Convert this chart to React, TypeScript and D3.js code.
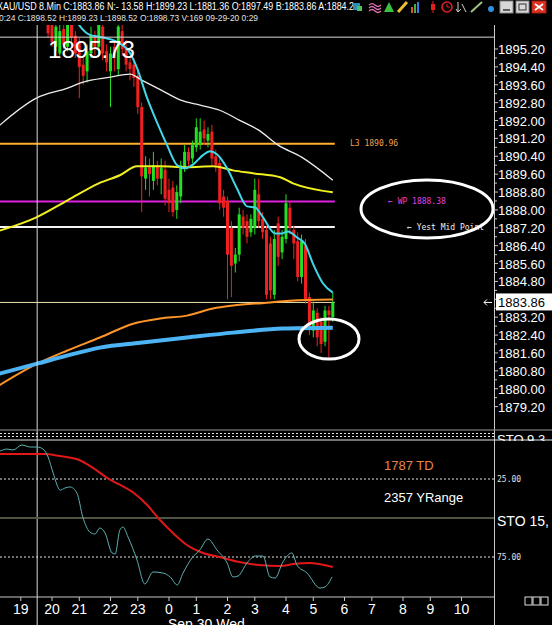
import React from "react";
import * as d3 from "d3";

// ---------- data ----------
const FIRST_BAR = -31; // bar index of first candle (0 = 0:00 bar)
const opens = [1896.6,1896.3,1895.3,1895.0,1896.1,1895.3,1896.4,1895.8,1895.5,1894.5,1894.2,1895.0,1895.8,1895.3,1896.2,1895.1,1894.2,1895.3,1894.3,1896.0,1895.3,1894.6,1894.5,1894.0,1892.6,1889.4,1889.9,1889.3,1890.0,1889.4,1889.8,1888.9,1889.0,1888.0,1888.6,1889.9,1890.6,1890.3,1890.8,1890.9,1891.6,1891.1,1891.5,1890.4,1890.1,1888.6,1888.4,1887.2,1885.6,1886.0,1887.7,1887.5,1887.0,1887.2,1888.7,1887.6,1887.1,1886.5,1884.2,1887.4,1886.1,1886.7,1888.1,1887.1,1886.6,1885.0,1886.4,1884.1,1882.6,1883.4,1883.0,1882.1,1883.5,1883.2];
const highs = [1897.0,1896.8,1896.6,1896.3,1896.5,1896.7,1896.8,1896.0,1895.7,1894.8,1895.4,1896.2,1896.0,1896.8,1896.5,1895.4,1895.3,1895.6,1896.6,1896.4,1895.6,1894.9,1894.8,1894.3,1892.8,1890.4,1890.3,1890.6,1890.2,1890.3,1890.2,1889.4,1889.3,1889.1,1890.2,1890.9,1890.8,1891.1,1892.1,1892.1,1892.0,1891.7,1891.8,1890.7,1890.3,1888.9,1888.6,1887.5,1886.3,1888.1,1888.0,1887.8,1887.8,1889.4,1889.4,1887.9,1887.3,1886.8,1887.1,1887.7,1887.1,1888.7,1888.4,1887.3,1887.0,1886.9,1886.7,1884.3,1883.9,1883.6,1883.2,1883.7,1883.7,1884.3];
const lows = [1895.7,1895.3,1895.1,1894.9,1895.2,1895.1,1895.5,1894.8,1893.0,1893.6,1893.7,1894.8,1894.9,1895.0,1894.7,1894.2,1892.6,1894.2,1894.0,1894.9,1894.2,1893.8,1893.5,1892.3,1887.9,1888.9,1888.6,1888.9,1889.1,1888.7,1888.2,1887.9,1887.7,1887.6,1888.3,1889.7,1889.9,1890.1,1890.6,1890.7,1890.9,1890.8,1890.0,1889.7,1888.0,1887.7,1884.0,1884.1,1885.2,1885.7,1886.9,1886.5,1886.8,1886.9,1887.2,1886.7,1884.0,1884.0,1884.0,1885.5,1885.8,1886.5,1886.9,1885.8,1884.8,1884.7,1883.8,1882.4,1882.3,1881.9,1881.6,1881.9,1881.36,1883.0];
const closes = [1895.9,1895.5,1896.2,1896.0,1895.4,1896.3,1895.7,1895.0,1894.4,1894.0,1895.1,1895.8,1895.3,1896.3,1895.0,1894.6,1895.0,1894.8,1896.2,1895.2,1894.5,1894.3,1893.9,1892.6,1889.5,1889.9,1889.6,1890.0,1889.4,1889.9,1888.5,1888.3,1887.9,1888.8,1890.0,1890.6,1890.2,1890.9,1891.7,1891.5,1891.2,1891.4,1890.3,1890.0,1888.3,1888.1,1886.0,1885.5,1886.0,1887.8,1887.2,1886.8,1887.6,1888.9,1887.5,1887.0,1884.2,1884.4,1886.7,1885.9,1886.8,1888.3,1887.2,1886.5,1885.0,1886.6,1884.0,1882.7,1883.5,1882.3,1882.0,1883.5,1883.3,1883.86];

const whiteMaBars = [-44,-34,-26,-22,-15,-10,-7,-2,3,8,13,18,23,28,34,42];
const whiteMaVals = [1891.70,1893.00,1893.45,1893.72,1893.94,1894.08,1893.81,1893.36,1892.91,1892.69,1892.46,1892.02,1891.57,1890.90,1890.36,1889.33];
const yellowMaBars = [-44,-34,-26,-18,-12.6,-8.2,-2.3,4.6,11.3,16.4,21.5,28.5,31.8,42];
const yellowMaVals = [1887.04,1887.67,1888.43,1889.19,1889.55,1889.95,1889.95,1889.91,1889.95,1889.77,1889.64,1889.46,1889.19,1888.79];
const cyanMaBars = [-25.5,-23.6,-20.3,-17.7,-13.3,-10,-8.2,-5.6,-3.1,-0.5,2.1,4.1,6.2,8.7,10.5,12.3,14.9,17.4,20,22.1,24.1,27.2,29,30.5,32.8,34.9,36.9,39.5,42];
const cyanMaVals = [1897.0,1896.41,1895.83,1895.74,1895.51,1895.02,1894.35,1893.00,1891.93,1890.90,1890.00,1889.86,1890.04,1890.45,1890.63,1890.49,1889.86,1888.97,1888.16,1888.11,1887.67,1886.95,1886.95,1887.04,1886.77,1886.46,1885.60,1884.71,1884.30];
const orangeMaBars = [-44,-33.8,-26.2,-17.7,-9.2,-2.3,4.6,11.3,16.4,25.1,31,42];
const orangeMaVals = [1880.10,1881.12,1881.70,1882.29,1882.91,1883.14,1883.27,1883.59,1883.72,1883.85,1883.94,1883.99];
const blueMaBars = [-44,-33.8,-26.2,-17.7,-7.4,4.6,16.4,29.2,42];
const blueMaVals = [1880.65,1881.12,1881.48,1881.84,1882.06,1882.29,1882.51,1882.69,1882.73];

const stochRedBars = [-44,-32,-28,-23,-19.5,-15,-13,-9,-5.6,-2.3,1,4.6,8.7,13,18,23,28.5,32,36,42];
const stochRedVals = [9.0,9.0,10.3,12.8,17.9,25.6,28.2,34,41.7,51.3,59.6,67.3,72.4,75,78.2,80.1,80.8,79.5,78.8,81.4];
const stochCyanBars = [-43.3,-41.5,-40,-37.7,-35.6,-33.8,-32.3,-31,-29.7,-27.9,-26.7,-25.4,-23.6,-22.1,-20.3,-19,-17.7,-16.4,-14.6,-13.8,-12.6,-11.8,-10.5,-8.2,-6.2,-4.1,-1.5,0.3,2.1,3.6,5.9,7.9,10,12.3,14.9,16.4,17.7,20,22.1,24.1,25.9,27.2,29.2,31.5,32.8,35.4,38.7,40,41.8];
const stochCyanVals = [7.1,5.8,6.4,3.2,4.5,4.5,5.8,10.9,21.2,32.1,30.8,30.1,34.0,49.4,59.0,60.3,56.4,59.6,72.4,73.1,57.7,55.8,62.2,76.9,92.3,84.6,85.3,87.8,92.9,85.3,75.6,70.5,63.5,70.5,78.8,87.8,87.2,78.8,74.4,74.4,87.8,88.5,78.2,72.4,80.1,85.3,94.9,94.2,87.8];

const priceTicks = [1879.2,1880.0,1880.8,1881.6,1882.4,1883.2,1884.0,1884.8,1885.6,1886.4,1887.2,1888.0,1888.8,1889.6,1890.4,1891.2,1892.0,1892.8,1893.6,1894.4,1895.2];
const hourLabels = ["19","20","21","22","23","0","1","2","3","4","5","6","7","8","9","10"];
const hourOffsets = [-5,-4,-3,-2,-1,0,1,2,3,4,5,6,7,8,9,10];

const lastPrice = 1883.86;
const crosshairPrice = 1895.73;
const crosshairBar = -33.8;
const levelL3 = 1890.96;
const levelWP = 1888.38;
const levelYestMid = 1887.24;

const titleText = "XAU/USD 8.Min  C:1883.86  N:- 13.58  H:1899.23  L:1881.36  O:1897.49  B:1883.86  A:1884.2";
const infoText = "0:24  C:1898.52  H:1899.23  L:1898.52  O:1898.73  V:169  09-29-20  0:29";

export default function App() {
  const x = d3.scaleLinear().domain([-43.33, 83.33]).range([0, 494]);
  const y = d3.scaleLinear().domain([1879.2, 1895.2]).range([406.6, 49]);
  const ys = d3.scaleLinear().domain([0, 100]).range([440, 596]);

  const mk = (bars: number[], vals: number[], sc: (v: number) => number) =>
    d3.line<number>().x((_, k) => x(bars[k])).y((v) => sc(v)).curve(d3.curveMonotoneX)(vals) || "";

  const lastX = x(FIRST_BAR + opens.length - 1) + 2;
  const font = "'Liberation Sans', Arial, sans-serif";
  const mono = "'DejaVu Sans Mono', 'Liberation Mono', monospace";

  return (
    <div style={{ position: "fixed", left: 0, top: 0, width: 552, height: 625, background: "#000" }}>
      <svg width={552} height={625} style={{ display: "block" }} fontFamily={font}>
        <defs>
          <clipPath id="mainClip"><rect x={0} y={25} width={494} height={404} /></clipPath>
          <clipPath id="lowClip"><rect x={0} y={441} width={494} height={156} /></clipPath>
          <clipPath id="axisClip"><rect x={495} y={0} width={57} height={441} /></clipPath>
          <clipPath id="yestClip"><rect x={0} y={0} width={487} height={430} /></clipPath>
        </defs>
        <rect x={0} y={0} width={552} height={625} fill="#000" />

        {/* header */}
        <text x={-3} y={10} fontSize={10} fill="#fff" textLength={357} lengthAdjust="spacingAndGlyphs">{titleText}</text>
        <text x={-1} y={21} fontSize={9} fill="#e0e0e0" textLength={259} lengthAdjust="spacingAndGlyphs">{infoText}</text>
        {/* toolbar icons */}
        <g>
          <rect x={353} y={3} width={7} height={7} fill="#2a8fb0" />
          <rect x={357} y={6} width={5} height={5} fill="#4ac06a" />
          <path d="M369,5 q3,-3 6,0 q3,3 6,0 M369,8 q3,-3 6,0 q3,3 6,0 M369,11 q3,-3 6,0 q3,3 6,0" stroke="#e070b0" fill="none" strokeWidth={1.2} />
          <path d="M384,12 L389,2 L394,12 Z" fill="#3cc040" />
          <path d="M398,12 L407,2" stroke="#e8c030" strokeWidth={3} />
          <rect x={411} y={7} width={2} height={6} fill="#e05030" />
          <rect x={414} y={4} width={2} height={9} fill="#40b040" />
          <rect x={417} y={2} width={2} height={11} fill="#3080e0" />
          <line x1={433} y1={1} x2={433} y2={13} stroke="#e02020" />
          <rect x={431} y={4} width={4} height={6} fill="#e02020" />
          <circle cx={447} cy={7} r={5} fill="none" stroke="#e02020" strokeWidth={1.6} />
          <path d="M447,4 L447,7 L450,7" stroke="#e02020" fill="none" />
          <path d="M458,2 L458,12 M456,9 L458,12 L461,9 M462,4 L466,12" stroke="#d0d0d0" fill="none" />
          <path d="M471,12 L482,2" stroke="#a0c080" strokeWidth={2} />
          <circle cx={491} cy={9} r={3} fill="#3090e0" />
          <rect x={500} y={1} width={13} height={12} fill="#d8d8d8" stroke="#888" />
          <line x1={503} y1={10} x2={510} y2={10} stroke="#333" strokeWidth={1.5} />
          <rect x={516} y={1} width={13} height={12} fill="#d8d8d8" stroke="#888" />
          <rect x={519} y={4} width={7} height={6} fill="none" stroke="#333" />
          <rect x={532} y={1} width={14} height={12} fill="#e03020" stroke="#a02010" />
          <path d="M535,4 L543,10 M543,4 L535,10" stroke="#fff" strokeWidth={1.6} />
        </g>

        {/* main panel */}
        <g clipPath="url(#mainClip)">
          <line x1={0} x2={lastX} y1={y(levelL3)} y2={y(levelL3)} stroke="#ffb02e" strokeWidth={2} />
          <line x1={0} x2={lastX} y1={y(levelWP)} y2={y(levelWP)} stroke="#e020e0" strokeWidth={2} />
          <line x1={0} x2={lastX} y1={y(levelYestMid)} y2={y(levelYestMid)} stroke="#f4f4f4" strokeWidth={2} />
          <line x1={0} x2={lastX} y1={y(lastPrice)} y2={y(lastPrice)} stroke="#e8e4b0" strokeWidth={1} />

          {opens.map((o, k) => {
            const i = FIRST_BAR + k;
            const c = closes[k];
            const col = c >= o ? "#22e022" : "#f02020";
            const cx = x(i);
            const top = y(Math.max(o, c));
            const bot = y(Math.min(o, c));
            return (
              <g key={k}>
                <line x1={cx} x2={cx} y1={y(highs[k])} y2={y(lows[k])} stroke={col} strokeWidth={1} />
                <rect x={cx - 1.5} y={top} width={3} height={Math.max(1, bot - top)} fill={col} />
              </g>
            );
          })}

          <path d={mk(whiteMaBars, whiteMaVals, y)} stroke="#ececec" strokeWidth={1.3} fill="none" />
          <path d={mk(yellowMaBars, yellowMaVals, y)} stroke="#f2f020" strokeWidth={2} fill="none" />
          <path d={mk(orangeMaBars, orangeMaVals, y)} stroke="#ff9428" strokeWidth={2} fill="none" />
          <path d={mk(blueMaBars, blueMaVals, y)} stroke="#4cb4f4" strokeWidth={4} fill="none" />
          <path d={mk(cyanMaBars, cyanMaVals, y)} stroke="#40d8e8" strokeWidth={2} fill="none" />

          <line x1={0} x2={494} y1={y(crosshairPrice)} y2={y(crosshairPrice)} stroke="#d8d8d8" strokeWidth={1} />
          <text x={48} y={58} fontSize={23} fill="#fff" textLength={87} lengthAdjust="spacingAndGlyphs">{crosshairPrice.toFixed(2)}</text>

          <text x={350} y={146} fontSize={8} fill="#f0a050" fontFamily={mono}>{`L3 ${levelL3.toFixed(2)}`}</text>
          <text x={388} y={204} fontSize={8} fill="#e040e0" fontFamily={mono}>{`\u2190 WP ${levelWP.toFixed(2)}`}</text>
          <g clipPath="url(#yestClip)">
            <text x={407} y={230} fontSize={8} fill="#f0f0f0" fontFamily={mono}>{`\u2190 Yest Mid Point ${levelYestMid.toFixed(2)}`}</text>
          </g>
          <ellipse cx={427} cy={209} rx={66} ry={29} fill="none" stroke="#fff" strokeWidth={3} />
          <ellipse cx={329} cy={339} rx={30} ry={20} fill="none" stroke="#fff" strokeWidth={3} />
        </g>

        {/* crosshair vertical & frame lines */}
        <line x1={x(crosshairBar)} x2={x(crosshairBar)} y1={25} y2={625} stroke="#d8d8d8" strokeWidth={1} />
        <line x1={494.5} x2={494.5} y1={25} y2={625} stroke="#c8c8c8" strokeWidth={1} />

        {/* price axis */}
        <g>
          {d3.range(priceTicks[0], priceTicks[priceTicks.length - 1] + 0.01, 0.4).map((v, k) => (
            <line key={k} x1={494} x2={k % 2 === 0 ? 498 : 497} y1={y(v)} y2={y(v)} stroke="#c8c8c8" />
          ))}
          {priceTicks.map((v) => (
            <text key={v} x={498} y={y(v) + 5} fontSize={13} fill="#fff">{v.toFixed(2)}</text>
          ))}
          <rect x={496} y={y(lastPrice) - 9} width={56} height={17} fill="#fff" />
          <text x={498} y={y(lastPrice) + 5} fontSize={13} fill="#000">{lastPrice.toFixed(2)}</text>
          <path d={`M484,${y(lastPrice)} L492,${y(lastPrice)} M487,${y(lastPrice) - 3} L484,${y(lastPrice)} L487,${y(lastPrice) + 3}`} stroke="#fff" fill="none" />
        </g>

        {/* separators */}
        <line x1={0} x2={552} y1={430} y2={430} stroke="#9a9a9a" strokeWidth={1} />
        <line x1={0} x2={494} y1={433.5} y2={433.5} stroke="#e0e0e0" strokeWidth={1} strokeDasharray="2,2" />
        <line x1={0} x2={494} y1={436.5} y2={436.5} stroke="#e0e0e0" strokeWidth={1} strokeDasharray="2,2" />
        <line x1={0} x2={552} y1={440} y2={440} stroke="#e8e8e8" strokeWidth={1} />
        <g clipPath="url(#axisClip)">
          <text x={497} y={444} fontSize={13} fill="#fff">STO  9.3</text>
        </g>

        {/* lower panel */}
        <g clipPath="url(#lowClip)">
          <line x1={0} x2={494} y1={ys(25)} y2={ys(25)} stroke="#e0e0e0" strokeDasharray="2,2" />
          <line x1={0} x2={494} y1={ys(75)} y2={ys(75)} stroke="#e0e0e0" strokeDasharray="2,2" />
          <line x1={0} x2={494} y1={ys(50)} y2={ys(50)} stroke="#4e5442" strokeWidth={2} />
          <path d={mk(stochRedBars, stochRedVals, ys)} stroke="#e01818" strokeWidth={2} fill="none" />
          <path d={mk(stochCyanBars, stochCyanVals, ys)} stroke="#60b0b0" strokeWidth={1} fill="none" />
          <text x={384} y={470} fontSize={13} fill="#e8844a">1787 TD</text>
          <text x={384} y={502} fontSize={13} fill="#fff">2357 YRange</text>
        </g>
        <text x={497} y={482} fontSize={8} fill="#e0e0e0" fontFamily={mono}>25.00</text>
        <text x={497} y={560} fontSize={8} fill="#e0e0e0" fontFamily={mono}>75.00</text>
        <text x={497} y={526} fontSize={14} fill="#fff">STO  15,</text>

        {/* time axis */}
        <line x1={0} x2={494} y1={597} y2={597} stroke="#c8c8c8" />
        {hourOffsets.map((h, k) => {
          const bx = x(Math.floor(7.5 * h));
          return (
            <g key={k}>
              <line x1={bx} x2={bx} y1={597} y2={601} stroke="#c8c8c8" />
              <text x={bx} y={614} fontSize={14} fill="#fff" textAnchor="middle">{hourLabels[k]}</text>
            </g>
          );
        })}
        <text x={168} y={629} fontSize={14} fill="#fff">Sep 30 Wed</text>
        <rect x={525} y={597} width={7} height={8} fill="none" stroke="#ddd" />
        <rect x={533} y={597} width={7} height={8} fill="none" stroke="#ddd" />
        <rect x={541} y={597} width={7} height={8} fill="none" stroke="#ddd" />
      </svg>
    </div>
  );
}
